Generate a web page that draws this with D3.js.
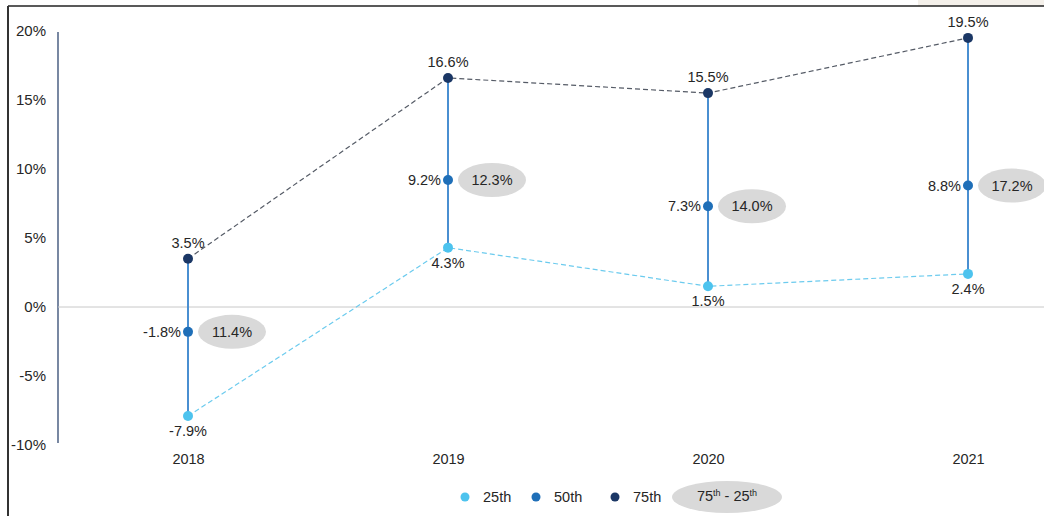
<!DOCTYPE html>
<html>
<head>
<meta charset="utf-8">
<script src="https://cdn.jsdelivr.net/npm/d3@7"></script>
<style>
  body { margin: 0; background: #fff; }
  svg text { font-family: "Liberation Sans", Arial, sans-serif; fill: #262626; }
</style>
</head>
<body>
<svg width="1044" height="516"></svg>
<script>
var years = ['2018', '2019', '2020', '2021'];
var p25 = [-7.9, 4.3, 1.5, 2.4];
var p50 = [-1.8, 9.2, 7.3, 8.8];
var p75 = [3.5, 16.6, 15.5, 19.5];
var spread = [11.4, 12.3, 14.0, 17.2];
var yTicks = [-10, -5, 0, 5, 10, 15, 20];

var colors = { p25: '#4dc3ee', p50: '#1f6fb8', p75: '#1b3765' };

var svg = d3.select('svg');

// frame
svg.append('rect').attr('x', 918).attr('y', 0).attr('width', 126).attr('height', 6).attr('fill', '#f4f0ea');
svg.append('line').attr('x1', 8).attr('y1', 6).attr('x2', 1044).attr('y2', 6)
  .attr('stroke', '#222').attr('stroke-width', 1.5);
svg.append('line').attr('x1', 8).attr('y1', 6).attr('x2', 8).attr('y2', 516)
  .attr('stroke', '#333').attr('stroke-width', 2);

var x = d3.scalePoint().domain(years).range([188, 968]);
var y = d3.scaleLinear().domain([-10, 20]).range([445, 31]);

// y axis
var yAxis = d3.axisLeft(y).tickValues(yTicks).tickSize(0).tickPadding(12)
  .tickFormat(function(d) { return d + '%'; });
var gy = svg.append('g').attr('transform', 'translate(58,0)').call(yAxis);
gy.select('.domain').attr('stroke', '#1f3864').attr('stroke-width', 1.2)
  .attr('d', 'M0,' + (y(20) + 1) + 'V' + (y(-10) - 2));
gy.selectAll('text').style('font-size', '15px').attr('fill', '#262626');

// zero line
svg.append('line').attr('x1', 58).attr('x2', 1044).attr('y1', y(0)).attr('y2', y(0))
  .attr('stroke', '#c8c8c8').attr('stroke-width', 1);

// x labels
var xAxis = d3.axisBottom(x).tickSize(0).tickPadding(0);
var gx = svg.append('g').attr('transform', 'translate(0,454)').call(xAxis);
gx.select('.domain').remove();
gx.selectAll('text').style('font-size', '14.5px').attr('fill', '#262626');

var rows = years.map(function(yr, i) {
  return { year: yr, p25: p25[i], p50: p50[i], p75: p75[i], spread: spread[i] };
});

// dashed lines
var line75 = d3.line().x(function(d) { return x(d.year); }).y(function(d) { return y(d.p75); });
var line25 = d3.line().x(function(d) { return x(d.year); }).y(function(d) { return y(d.p25); });
svg.append('path').attr('d', line75(rows)).attr('fill', 'none')
  .attr('stroke', '#555b66').attr('stroke-width', 1.2).attr('stroke-dasharray', '5,3');
svg.append('path').attr('d', line25(rows)).attr('fill', 'none')
  .attr('stroke', '#6ccbee').attr('stroke-width', 1.2).attr('stroke-dasharray', '5,3');

// vertical range lines
svg.selectAll('.range').data(rows).enter().append('line')
  .attr('class', 'range')
  .attr('x1', function(d) { return x(d.year); })
  .attr('x2', function(d) { return x(d.year); })
  .attr('y1', function(d) { return y(d.p75); })
  .attr('y2', function(d) { return y(d.p25); })
  .attr('stroke', '#4a8fd1').attr('stroke-width', 2);

// points
['p25', 'p50', 'p75'].forEach(function(k) {
  svg.selectAll('.pt-' + k).data(rows).enter().append('circle')
    .attr('class', 'pt-' + k)
    .attr('cx', function(d) { return x(d.year); })
    .attr('cy', function(d) { return y(d[k]); })
    .attr('r', 5)
    .attr('fill', colors[k]);
});

// value labels
svg.selectAll('.lab75').data(rows).enter().append('text')
  .attr('x', function(d) { return x(d.year); })
  .attr('y', function(d) { return y(d.p75) - 11; })
  .attr('text-anchor', 'middle').style('font-size', '14.5px')
  .text(function(d) { return d.p75.toFixed(1) + '%'; });
svg.selectAll('.lab25').data(rows).enter().append('text')
  .attr('x', function(d) { return x(d.year); })
  .attr('y', function(d) { return y(d.p25) + 20; })
  .attr('text-anchor', 'middle').style('font-size', '14.5px')
  .text(function(d) { return d.p25.toFixed(1) + '%'; });
svg.selectAll('.lab50').data(rows).enter().append('text')
  .attr('x', function(d) { return x(d.year) - 7; })
  .attr('y', function(d) { return y(d.p50) + 5; })
  .attr('text-anchor', 'end').style('font-size', '14.5px')
  .text(function(d) { return d.p50.toFixed(1) + '%'; });

// spread bubbles
var bub = svg.selectAll('.bub').data(rows).enter().append('g')
  .attr('transform', function(d) { return 'translate(' + (x(d.year) + 44) + ',' + y(d.p50) + ')'; });
bub.append('ellipse').attr('rx', 34).attr('ry', 17).attr('fill', '#d9d9d9');
bub.append('text').attr('text-anchor', 'middle').attr('y', 5).style('font-size', '14.5px')
  .text(function(d) { return d.spread.toFixed(1) + '%'; });

// legend
var legend = [
  { key: 'p25', label: '25', cx: 465 },
  { key: 'p50', label: '50', cx: 536 },
  { key: 'p75', label: '75', cx: 615 }
];
var lg = svg.selectAll('.lg').data(legend).enter().append('g')
  .attr('transform', function(d) { return 'translate(' + d.cx + ',497)'; });
lg.append('circle').attr('r', 4.5).attr('fill', function(d) { return colors[d.key]; });
lg.append('text').attr('x', 18).attr('y', 5).style('font-size', '14.5px')
  .text(function(d) { return d.label + 'th'; });

var lgb = svg.append('g').attr('transform', 'translate(727,497)');
lgb.append('ellipse').attr('rx', 55).attr('ry', 16).attr('fill', '#d9d9d9');
var lt = lgb.append('text').attr('text-anchor', 'middle').attr('y', 4).style('font-size', '14.5px');
lt.append('tspan').text('75');
lt.append('tspan').attr('dy', -5).style('font-size', '9px').text('th');
lt.append('tspan').attr('dy', 5).text(' - 25');
lt.append('tspan').attr('dy', -5).style('font-size', '9px').text('th');
</script>
</body>
</html>
